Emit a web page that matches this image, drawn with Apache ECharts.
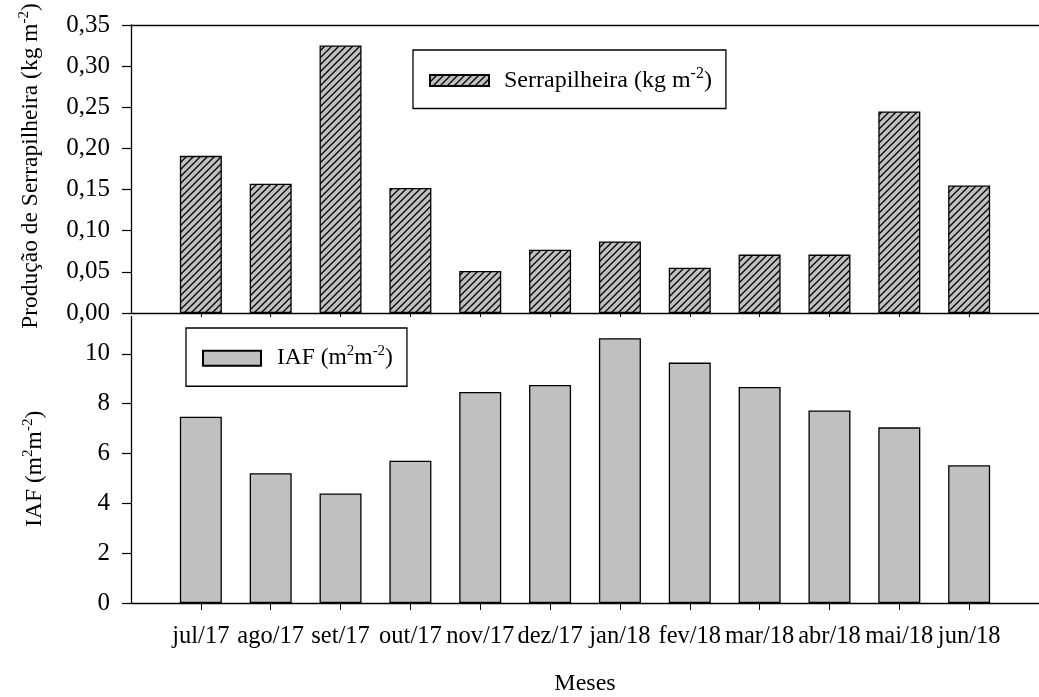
<!DOCTYPE html>
<html>
<head>
<meta charset="utf-8">
<script src="https://cdn.jsdelivr.net/npm/echarts@6/dist/echarts.min.js"></script>
<style>
  html, body { margin: 0; padding: 0; background: #fff; }
  #chart { width: 1039px; height: 697px; }
</style>
</head>
<body>
<div id="chart"></div>
<script>
// Monthly litterfall and leaf area index
const months = ['jul/17', 'ago/17', 'set/17', 'out/17', 'nov/17', 'dez/17',
                'jan/18', 'fev/18', 'mar/18', 'abr/18', 'mai/18', 'jun/18'];
const litter = [0.191, 0.157, 0.325, 0.152, 0.051, 0.077, 0.087, 0.055, 0.071, 0.071, 0.245, 0.155];
const lai = [7.48, 5.21, 4.40, 5.71, 8.47, 8.75, 10.63, 9.65, 8.67, 7.73, 7.05, 5.53];
const laiTicks = [0, 2, 4, 6, 8, 10];

const FONT = '"Liberation Serif", "Times New Roman", serif';
const monthPos = months.map((m, i) => i);

// gray fill with black diagonal hatching
function hatchTile() {
  const s = 7;
  const c = document.createElement('canvas');
  c.width = s; c.height = s;
  const g = c.getContext('2d');
  g.fillStyle = '#c0c0c0';
  g.fillRect(0, 0, s, s);
  g.strokeStyle = '#000';
  g.lineWidth = 1.3;
  g.beginPath();
  g.moveTo(-1, s + 1); g.lineTo(s + 1, -1);
  g.moveTo(-2, 2); g.lineTo(2, -2);
  g.moveTo(s - 2, s + 2); g.lineTo(s + 2, s - 2);
  g.stroke();
  return c;
}

function richStyle(size) {
  return {
    t: { fontFamily: FONT, fontSize: size, lineHeight: size + 5, color: '#000' },
    s: { fontFamily: FONT, fontSize: Math.round(size * 0.65), lineHeight: Math.round(size * 0.65),
         verticalAlign: 'top', color: '#000' }
  };
}

const axisLine = { show: true, onZero: false, lineStyle: { color: '#000', width: 1.3 } };

const chart = echarts.init(document.getElementById('chart'), null, { renderer: 'canvas' });
chart.setOption({
  animation: false,
  backgroundColor: '#fff',
  textStyle: { fontFamily: FONT, color: '#000' },
  grid: [
    { left: 131, top: 25, width: 917, height: 288 },
    { left: 131, top: 316.5, width: 917, height: 287.5 }
  ],
  legend: [
    {
      data: ['Serrapilheira'],
      left: 413, top: 50,
      padding: [16, 14, 16, 16],
      borderColor: '#000', borderWidth: 1.3,
      icon: 'rect', itemWidth: 59, itemHeight: 11,
      formatter: () => '{t|Serrapilheira (kg m}{s|-2}{t|)}',
      textStyle: { rich: richStyle(24), padding: [0, 0, 0, 10] }
    },
    {
      data: ['IAF'],
      left: 186, top: 328,
      padding: [16, 14, 16, 16],
      borderColor: '#000', borderWidth: 1.3,
      icon: 'rect', itemWidth: 58, itemHeight: 15,
      formatter: () => '{t|IAF (m}{s|2}{t|m}{s|-2}{t|)}',
      textStyle: { rich: richStyle(23.5), padding: [0, 0, 0, 11] }
    }
  ],
  xAxis: [
    {
      gridIndex: 0, type: 'value', min: -1, max: 12, interval: 1, position: 'bottom',
      axisLine: axisLine,
      axisTick: { show: true, customValues: monthPos, length: 4, lineStyle: { color: '#000', width: 1 } },
      axisLabel: { show: false },
      splitLine: { show: false }
    },
    {
      gridIndex: 0, type: 'value', min: -1, max: 12, interval: 1, position: 'top',
      axisLine: axisLine,
      axisTick: { show: false },
      axisLabel: { show: false },
      splitLine: { show: false }
    },
    {
      gridIndex: 1, type: 'value', min: -1, max: 12, interval: 1, position: 'bottom',
      axisLine: axisLine,
      axisTick: { show: true, customValues: monthPos, length: 7, lineStyle: { color: '#000', width: 1 } },
      axisLabel: {
        customValues: monthPos,
        formatter: v => months[v],
        fontFamily: FONT, fontSize: 24.5, color: '#000', margin: 21
      },
      splitLine: { show: false },
      name: 'Meses', nameLocation: 'middle', nameGap: 69,
      nameTextStyle: { fontFamily: FONT, fontSize: 24, color: '#000' }
    }
  ],
  yAxis: [
    {
      gridIndex: 0, type: 'value', min: 0, max: 0.35, interval: 0.05,
      axisLine: axisLine,
      axisTick: { show: true, length: 9, lineStyle: { color: '#000', width: 1.2 } },
      axisLabel: {
        formatter: v => v.toFixed(2).replace('.', ','),
        fontFamily: FONT, fontSize: 25, color: '#000', margin: 21
      },
      splitLine: { show: false },
      name: '{t|Produção de Serrapilheira (kg m}{s|-2}{t|)}',
      nameLocation: 'middle', nameGap: 86, nameRotate: 90,
      nameTextStyle: { rich: richStyle(23.5), padding: [0, 0, 0, 6] }
    },
    {
      gridIndex: 1, type: 'value', min: 0, max: 11.5, interval: 2,
      axisLine: axisLine,
      axisTick: { show: true, customValues: laiTicks, length: 9, lineStyle: { color: '#000', width: 1.2 } },
      axisLabel: {
        customValues: laiTicks,
        fontFamily: FONT, fontSize: 25, color: '#000', margin: 21
      },
      splitLine: { show: false },
      name: '{t|IAF (m}{s|2}{t|m}{s|-2}{t|)}',
      nameLocation: 'middle', nameGap: 82, nameRotate: 90,
      nameTextStyle: { rich: richStyle(23.5), padding: [0, 18, 0, 0] }
    }
  ],
  series: [
    {
      name: 'Serrapilheira', type: 'bar', xAxisIndex: 0, yAxisIndex: 0,
      barWidth: 42,
      data: litter.map((v, i) => [i, v]),
      itemStyle: { color: { image: hatchTile(), repeat: 'repeat' }, borderColor: '#000', borderWidth: 1.3 }
    },
    {
      name: 'IAF', type: 'bar', xAxisIndex: 2, yAxisIndex: 1,
      barWidth: 42,
      data: lai.map((v, i) => [i, v]),
      itemStyle: { color: '#c0c0c0', borderColor: '#000', borderWidth: 1.3 }
    }
  ]
});
</script>
</body>
</html>
